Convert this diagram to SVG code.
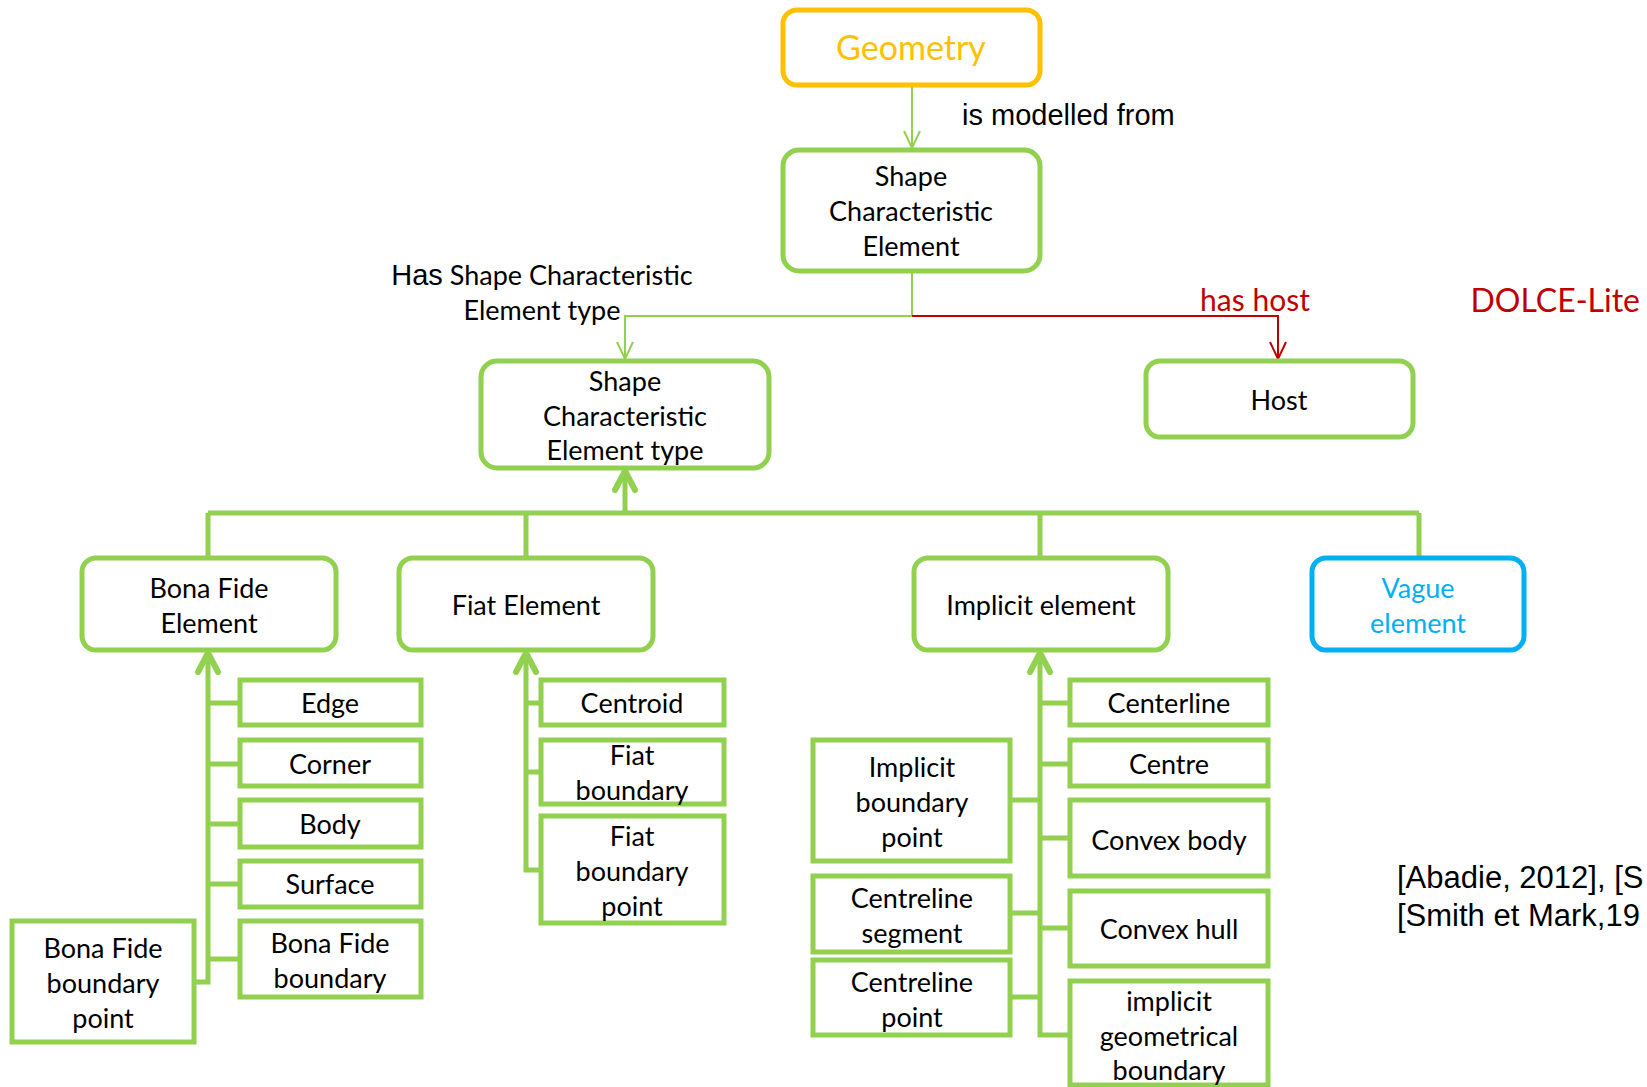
<svg xmlns="http://www.w3.org/2000/svg" width="1647" height="1087" viewBox="0 0 1647 1087">
<style>
.rb{fill:#fff;stroke:#92D050;stroke-width:5}
.cb{fill:#fff;stroke:#92D050;stroke-width:5}
.t{font-family:Lato,"Open Sans",sans-serif;font-size:27px;fill:#000;text-anchor:middle}
.a{font-family:"Liberation Sans",Arial,sans-serif;font-size:29px;fill:#000}
.thin{fill:none;stroke:#92D050;stroke-width:2}
.red{fill:none;stroke:#C00000;stroke-width:2}
.thick{fill:none;stroke:#92D050;stroke-width:5}
.head{fill:none;stroke:#92D050;stroke-width:6;stroke-linecap:round;stroke-linejoin:round}
</style>
<rect width="1647" height="1087" fill="#fff"/>
<g id="connectors">
<path class="thin" d="M912,85 V148 M904,131 L912,148 L920,131"/>
<path class="thin" d="M912,271 V316 H625 V359 M617,342 L625,359 L633,342"/>
<path class="red" d="M912,316 H1278 V359 M1270,342 L1278,359 L1286,342"/>
<path class="thick" d="M208,513 H1419 M208,513 V558 M526,513 V558 M1040,513 V558 M1419,513 V558"/>
<path class="thick" d="M625,513 V473"/>
<path class="head" d="M615,490 L625,471 L635,490"/>
<path class="thick" d="M208,655 V982 H194 M208,703 H240 M208,764 H240 M208,824 H240 M208,884 H240 M208,959 H240"/>
<path class="head" d="M198,672 L208,653 L218,672"/>
<path class="thick" d="M526,655 V870 H541 M526,703 H541 M526,772 H541"/>
<path class="head" d="M516,672 L526,653 L536,672"/>
<path class="thick" d="M1040,655 V1035 H1070 M1040,703 H1070 M1040,764 H1070 M1040,838 H1070 M1040,928 H1070 M1010,800 H1040 M1010,913 H1040 M1010,997 H1040"/>
<path class="head" d="M1030,672 L1040,653 L1050,672"/>
</g>
<text class="a" x="962" y="125">is modelled from</text>
<text class="t" x="542" y="285"><tspan class="a" style="font-size:29px">Has</tspan> Shape Characteristic</text>
<text class="t" x="542" y="320">Element type</text>
<text class="t" x="1255" y="311" style="fill:#C00000;font-size:30px">has host</text>
<text class="t" x="1640" y="312" style="fill:#C00000;font-size:32px;text-anchor:end">DOLCE-Lite</text>
<text class="a" x="1397" y="888" style="font-size:31px">[Abadie, 2012], [S</text>
<text class="a" x="1397" y="926" style="font-size:31px">[Smith et Mark,19</text>
<g id="geometry"><rect x="783" y="10" width="257" height="75" rx="14" fill="#fff" stroke="#FFC000" stroke-width="5"/><text class="t" x="911" y="60" style="fill:#FFC000;font-size:34px">Geometry</text></g>
<g id="sce"><rect class="rb" x="783" y="150" width="257" height="121" rx="16"/><text class="t" x="911" y="186">Shape</text><text class="t" x="911" y="221">Characteristic</text><text class="t" x="911" y="256">Element</text></g>
<g id="scet"><rect class="rb" x="481" y="361" width="288" height="107" rx="16"/><text class="t" x="625" y="391">Shape</text><text class="t" x="625" y="426">Characteristic</text><text class="t" x="625" y="460">Element type</text></g>
<g id="host"><rect class="rb" x="1146" y="361" width="267" height="76" rx="14"/><text class="t" x="1279" y="410">Host</text></g>
<g id="bonafide"><rect class="rb" x="82" y="558" width="254" height="92" rx="14"/><text class="t" x="209" y="598">Bona Fide</text><text class="t" x="209" y="633">Element</text></g>
<g id="fiat"><rect class="rb" x="399" y="558" width="254" height="92" rx="14"/><text class="t" x="526" y="615">Fiat Element</text></g>
<g id="implicit"><rect class="rb" x="914" y="558" width="254" height="92" rx="14"/><text class="t" x="1041" y="615">Implicit element</text></g>
<g id="vague"><rect x="1312" y="558" width="212" height="92" rx="14" fill="#fff" stroke="#00B0F0" stroke-width="5"/><text class="t" x="1418" y="598" style="fill:#00B0F0">Vague</text><text class="t" x="1418" y="633" style="fill:#00B0F0">element</text></g>
<g id="edge"><rect class="cb" x="240" y="680" width="181" height="45"/><text class="t" x="330" y="713">Edge</text></g>
<g id="corner"><rect class="cb" x="240" y="740" width="181" height="46"/><text class="t" x="330" y="774">Corner</text></g>
<g id="body"><rect class="cb" x="240" y="800" width="181" height="47"/><text class="t" x="330" y="834">Body</text></g>
<g id="surface"><rect class="cb" x="240" y="861" width="181" height="46"/><text class="t" x="330" y="894">Surface</text></g>
<g id="bfboundary"><rect class="cb" x="240" y="921" width="181" height="76"/><text class="t" x="330" y="953">Bona Fide</text><text class="t" x="330" y="988">boundary</text></g>
<g id="bfbpoint"><rect class="cb" x="12" y="921" width="182" height="121"/><text class="t" x="103" y="958">Bona Fide</text><text class="t" x="103" y="993">boundary</text><text class="t" x="103" y="1028">point</text></g>
<g id="centroid"><rect class="cb" x="541" y="680" width="183" height="45"/><text class="t" x="632" y="713">Centroid</text></g>
<g id="fiatboundary"><rect class="cb" x="541" y="740" width="183" height="64"/><text class="t" x="632" y="765">Fiat</text><text class="t" x="632" y="800">boundary</text></g>
<g id="fiatbpoint"><rect class="cb" x="541" y="816" width="183" height="107"/><text class="t" x="632" y="846">Fiat</text><text class="t" x="632" y="881">boundary</text><text class="t" x="632" y="916">point</text></g>
<g id="centerline"><rect class="cb" x="1070" y="680" width="198" height="45"/><text class="t" x="1169" y="713">Centerline</text></g>
<g id="centre"><rect class="cb" x="1070" y="740" width="198" height="46"/><text class="t" x="1169" y="774">Centre</text></g>
<g id="convexbody"><rect class="cb" x="1070" y="800" width="198" height="76"/><text class="t" x="1169" y="850">Convex body</text></g>
<g id="convexhull"><rect class="cb" x="1070" y="891" width="198" height="75"/><text class="t" x="1169" y="939">Convex hull</text></g>
<g id="igboundary"><rect class="cb" x="1070" y="981" width="198" height="104"/><text class="t" x="1169" y="1011">implicit</text><text class="t" x="1169" y="1046">geometrical</text><text class="t" x="1169" y="1080">boundary</text></g>
<g id="ibpoint"><rect class="cb" x="813" y="740" width="197" height="121"/><text class="t" x="912" y="777">Implicit</text><text class="t" x="912" y="812">boundary</text><text class="t" x="912" y="847">point</text></g>
<g id="clsegment"><rect class="cb" x="813" y="876" width="197" height="76"/><text class="t" x="912" y="908">Centreline</text><text class="t" x="912" y="943">segment</text></g>
<g id="clpoint"><rect class="cb" x="813" y="960" width="197" height="75"/><text class="t" x="912" y="992">Centreline</text><text class="t" x="912" y="1027">point</text></g>
</svg>
